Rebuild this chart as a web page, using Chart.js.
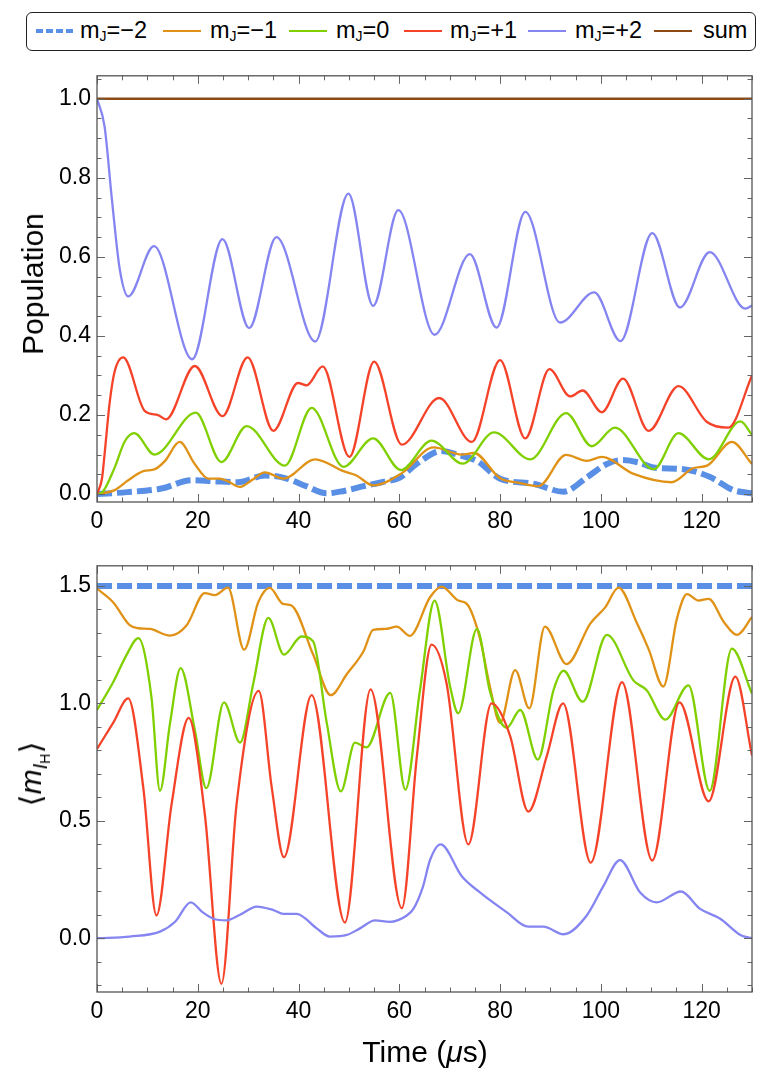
<!DOCTYPE html>
<html>
<head>
<meta charset="utf-8">
<script src="https://cdn.jsdelivr.net/npm/chart.js@4.4.1/dist/chart.umd.min.js"></script>
<style>
  html, body { margin: 0; padding: 0; background: #fff; overflow: hidden; }
  body { width: 777px; height: 1077px; position: relative; font-family: "Liberation Sans", Arial, sans-serif; color: #000; }
  #legendBox { position: absolute; left: 26px; top: 12px; width: 728px; height: 37px; border: 1.5px solid #222; border-radius: 6px; }
  .sw { position: absolute; top: 30px; width: 38px; height: 2px; }
  .lt { position: absolute; top: 16px; font-size: 23.5px; line-height: 28px; white-space: nowrap; }
  .lt sub { font-size: 14px; vertical-align: -3px; line-height: 0; }
  .title { position: absolute; font-size: 30px; white-space: nowrap; line-height: 34px; }
  .rot { transform: translate(-50%, -50%) rotate(-90deg); }
  .ctr { transform: translate(-50%, -50%); }
  .title sub { font-size: 20px; vertical-align: -6px; line-height: 0; }
  .title sub sub { font-size: 14px; vertical-align: -3px; }
  .wrap { position: absolute; left: 0; width: 777px; }
</style>
</head>
<body>

<div id="legendBox"></div>
<div class="sw" style="left:36px;top:29px;height:4px;background:repeating-linear-gradient(90deg,#5a8fe6 0 7px,transparent 7px 10px)"></div>
<div class="lt" style="left:80px">m<sub>J</sub>=−2</div>
<div class="sw" style="left:163px;background:#e09216"></div>
<div class="lt" style="left:210px">m<sub>J</sub>=−1</div>
<div class="sw" style="left:289px;background:#80d000"></div>
<div class="lt" style="left:336px">m<sub>J</sub>=0</div>
<div class="sw" style="left:404px;background:#f5432a"></div>
<div class="lt" style="left:450px">m<sub>J</sub>=+1</div>
<div class="sw" style="left:528px;background:#8585f2"></div>
<div class="lt" style="left:575px">m<sub>J</sub>=+2</div>
<div class="sw" style="left:654px;background:#8b4a16"></div>
<div class="lt" style="left:703px">sum</div>

<div class="wrap" style="top:56px;height:490px"><canvas id="popChart"></canvas></div>
<div class="wrap" style="top:546px;height:500px"><canvas id="spinChart"></canvas></div>

<div class="title rot" style="left:33px;top:284px">Population</div>
<div class="title rot" style="left:31px;top:774px">⟨<i>m</i><sub><i>I</i><sub>H</sub></sub>⟩</div>
<div class="title ctr" style="left:425px;top:1052px">Time (<i>μ</i>s)</div>

<script>
// ---- top panel: populations ----
const tPopM2 = [0, 6, 12.8, 18.8, 22.8, 28, 33.3, 37.5, 41.5, 45.6, 49, 52.9, 56.5, 60.1, 63.4, 68.4, 72, 75.4, 80, 86.6, 92.6, 97.2, 101, 104.2, 107.5, 110.5, 116.4, 121.7, 126.3, 130];
const popM2 = [0, 0.005, 0.014, 0.035, 0.033, 0.03, 0.047, 0.04, 0.02, 0.002, 0.008, 0.02, 0.03, 0.042, 0.076, 0.109, 0.098, 0.084, 0.039, 0.026, 0.006, 0.042, 0.075, 0.086, 0.08, 0.067, 0.063, 0.043, 0.01, 0.002];

const tPopM1 = [0, 3.5, 6.2, 9.2, 11.5, 13.5, 16.4, 19.4, 22.1, 24.4, 26.0, 28.4, 30.7, 33.3, 37.0, 43.3, 48.9, 51.5, 54.8, 60.5, 66.8, 72.4, 74.8, 80, 84, 87.6, 93.1, 97.2, 100.2, 106.5, 114.1, 118.4, 121.1, 126.0, 130];
const popM1 = [0, 0.01, 0.035, 0.058, 0.063, 0.084, 0.132, 0.076, 0.039, 0.039, 0.032, 0.018, 0.035, 0.055, 0.039, 0.088, 0.058, 0.047, 0.022, 0.053, 0.118, 0.10, 0.104, 0.04, 0.028, 0.02, 0.099, 0.084, 0.094, 0.051, 0.03, 0.066, 0.072, 0.132, 0.076];

const tPop0 = [0, 1, 3.5, 5.5, 7.4, 11.4, 19.6, 24.7, 29.7, 37.3, 42.6, 48.9, 54.8, 60.3, 66.4, 72.6, 78.8, 86.0, 93.1, 98.2, 102.8, 110.5, 115.4, 121.4, 127.7, 130];
const pop0 = [0, 0.004, 0.067, 0.133, 0.154, 0.1, 0.206, 0.081, 0.172, 0.072, 0.218, 0.069, 0.141, 0.061, 0.135, 0.077, 0.156, 0.088, 0.205, 0.121, 0.168, 0.063, 0.154, 0.088, 0.184, 0.15];

const tPopP1 = [0, 1, 1.5, 2.5, 3.5, 5.2, 9.5, 12.1, 13.7, 19.4, 24.9, 29.9, 35.0, 39.9, 41.6, 44.8, 50.1, 55.0, 60.5, 67.9, 74.4, 80.0, 85.0, 89.8, 93.9, 96.4, 100.2, 104.4, 109.5, 115.4, 121.0, 125.3, 130];
const popP1 = [0, 0.04, 0.1, 0.23, 0.31, 0.346, 0.21, 0.2, 0.189, 0.324, 0.197, 0.346, 0.16, 0.281, 0.275, 0.323, 0.094, 0.335, 0.125, 0.243, 0.132, 0.339, 0.141, 0.316, 0.247, 0.262, 0.207, 0.292, 0.16, 0.273, 0.183, 0.168, 0.30];

const tPopP2 = [0, 1.5, 3, 4.5, 6.2, 11.3, 18.9, 24.9, 30.2, 35.6, 43.3, 49.9, 54.8, 59.8, 67.0, 74.0, 79.3, 85.0, 91.9, 98.7, 103.9, 110.2, 115.7, 121.6, 128.7, 130];
const popP2 = [1.0, 0.93, 0.74, 0.57, 0.50, 0.627, 0.341, 0.645, 0.42, 0.65, 0.386, 0.76, 0.476, 0.718, 0.403, 0.607, 0.421, 0.714, 0.434, 0.51, 0.387, 0.66, 0.472, 0.612, 0.469, 0.477];

const tPopSum = [0, 130];
const popSum = [1, 1];

// ---- bottom panel: <m_IH> ----
const tSpinM2 = [0, 130];
const spinM2 = [1.5, 1.5];

const tSpinM1 = [0, 3.2, 6.5, 8.2, 10.5, 14.5, 17.8, 21.4, 23.4, 26.0, 29.2, 32.0, 34.3, 36.9, 38.6, 42.9, 46.4, 49.6, 52.9, 54.8, 57.2, 59.5, 62.1, 66.1, 68.4, 71.7, 73.4, 76.0, 78.0, 80.0, 83.0, 85.8, 88.9, 93.2, 97.9, 100.9, 103.5, 107.2, 109.5, 112.4, 115.1, 117.1, 119.4, 121.4, 124.4, 127.0, 130];
const spinM1 = [1.489, 1.431, 1.333, 1.32, 1.317, 1.289, 1.333, 1.47, 1.461, 1.493, 1.229, 1.431, 1.492, 1.424, 1.417, 1.208, 1.035, 1.125, 1.222, 1.313, 1.317, 1.327, 1.288, 1.452, 1.497, 1.438, 1.424, 1.278, 1.07, 0.917, 1.142, 0.979, 1.327, 1.167, 1.34, 1.41, 1.493, 1.34, 1.23, 1.072, 1.361, 1.465, 1.438, 1.445, 1.347, 1.292, 1.368];

const tSpin0 = [0, 3.2, 5.9, 8.2, 10.8, 12.5, 14.5, 16.6, 19.4, 21.7, 25.2, 28.4, 31.0, 34.0, 37.1, 40.6, 42.9, 45.6, 48.4, 51.2, 53.5, 58.2, 61.2, 64.1, 67.0, 70.1, 71.7, 75.4, 78.0, 81.3, 84.0, 87.5, 90.6, 92.6, 96.4, 101.2, 106.5, 109.1, 112.8, 117.4, 121.6, 126.0, 130];
const spin0 = [0.972, 1.09, 1.208, 1.278, 1.028, 0.628, 0.917, 1.15, 0.889, 0.639, 1.004, 0.833, 1.083, 1.364, 1.208, 1.285, 1.264, 0.917, 0.625, 0.833, 0.813, 1.045, 0.633, 1.056, 1.438, 1.07, 0.958, 1.317, 1.05, 0.896, 0.972, 0.761, 1.056, 1.139, 1.007, 1.292, 1.097, 1.056, 0.931, 1.077, 0.628, 1.233, 1.042];

const tSpinP1 = [0, 3.2, 6.2, 9.2, 11.8, 14.8, 18.2, 21.4, 24.7, 27.7, 32.1, 34.7, 37.1, 42.6, 49.2, 54.3, 60.5, 63.5, 66.4, 69.4, 73.7, 78.3, 82.0, 85.6, 89.3, 92.5, 98.0, 104.2, 110.2, 115.6, 121.4, 126.7, 130];
const spinP1 = [0.806, 0.917, 1.021, 0.639, 0.097, 0.57, 0.938, 0.528, -0.194, 0.57, 1.053, 0.639, 0.345, 1.035, 0.067, 1.06, 0.128, 0.778, 1.25, 1.083, 0.4, 1.0, 0.861, 0.539, 0.778, 1.0, 0.322, 1.09, 0.331, 1.004, 0.583, 1.114, 0.778];

const tSpinP2 = [0, 6.5, 12.5, 15.5, 18.6, 21, 23.1, 25.7, 28.4, 31.7, 35, 37.0, 39.6, 43.6, 46.2, 49.6, 52.2, 55.2, 58.1, 61.5, 62.8, 64.7, 66.1, 68.2, 72.4, 76.0, 81.3, 85.6, 88.6, 92.6, 97.2, 100.5, 103.8, 107.8, 111.1, 115.9, 119.7, 123.7, 127.7, 130];
const spinP2 = [0, 0.007, 0.028, 0.07, 0.153, 0.11, 0.083, 0.076, 0.1, 0.135, 0.12, 0.104, 0.104, 0.042, 0.007, 0.014, 0.042, 0.076, 0.07, 0.097, 0.125, 0.22, 0.333, 0.4, 0.264, 0.195, 0.111, 0.049, 0.049, 0.017, 0.097, 0.222, 0.333, 0.195, 0.153, 0.199, 0.125, 0.083, 0.014, 0];

const colors = {
    m2: "#5a8fe6",
    m1: "#e09216",
    z: "#80d000",
    p1: "#f5432a",
    p2: "#8585f2",
    sum: "#8b4a16"
};

function series(label, t, v, color, order, dashed) {
    return {
        label: label,
        data: t.map((x, i) => ({ x: x, y: v[i] })),
        borderColor: color,
        backgroundColor: color,
        borderWidth: dashed ? 6 : 2.3,
        borderDash: dashed ? [15, 5] : [],
        borderCapStyle: "butt",
        pointRadius: 0,
        cubicInterpolationMode: "monotone",
        fill: false,
        order: order
    };
}

// frame with inward major/minor ticks on all four sides (Mathematica style)
const frameTicks = {
    id: "frameTicks",
    afterDraw(chart, args, opts) {
        const { ctx, chartArea: a, scales: { x, y } } = chart;
        ctx.save();
        ctx.strokeStyle = "#666";
        ctx.lineWidth = 1;

        const marks = (scale, minor, major, fn) => {
            for (let k = Math.ceil(scale.min / minor - 1e-9); k * minor <= scale.max + 1e-9; k++) {
                const v = k * minor;
                const isMajor = Math.abs(v / major - Math.round(v / major)) < 1e-6;
                fn(Math.round(scale.getPixelForValue(v)) + 0.5, isMajor ? 8 : 4.5);
            }
        };

        ctx.beginPath();
        marks(x, opts.xMinor, opts.xMajor, (px, len) => {
            ctx.moveTo(px, a.bottom); ctx.lineTo(px, a.bottom - len);
            ctx.moveTo(px, a.top); ctx.lineTo(px, a.top + len);
        });
        marks(y, opts.yMinor, opts.yMajor, (py, len) => {
            ctx.moveTo(a.left, py); ctx.lineTo(a.left + len, py);
            ctx.moveTo(a.right, py); ctx.lineTo(a.right - len, py);
        });
        ctx.stroke();

        ctx.strokeStyle = "#555";
        ctx.lineWidth = 1.3;
        ctx.strokeRect(a.left, a.top, a.right - a.left, a.bottom - a.top);
        ctx.restore();
    }
};

function buildOptions(yMin, yMax, yStep, xAxisHeight, minor) {
    const tickFont = { family: "Liberation Sans", size: 23 };
    return {
        responsive: true,
        maintainAspectRatio: false,
        animation: false,
        layout: { padding: { top: 10, right: 25, bottom: 0, left: 0 } },
        plugins: {
            legend: { display: false },
            tooltip: { enabled: false },
            frameTicks: minor
        },
        scales: {
            x: {
                type: "linear",
                min: 0,
                max: 130,
                grid: { display: false, drawTicks: false },
                border: { display: false },
                ticks: {
                    stepSize: 20,
                    includeBounds: false,
                    color: "#000",
                    font: tickFont,
                    padding: 6,
                    maxRotation: 0,
                    callback: v => String(v)
                },
                afterFit(s) { s.height = xAxisHeight; }
            },
            y: {
                min: yMin,
                max: yMax,
                grid: { display: false, drawTicks: false },
                border: { display: false },
                ticks: {
                    stepSize: yStep,
                    includeBounds: false,
                    color: "#000",
                    font: tickFont,
                    padding: 6,
                    callback: v => Number(v).toFixed(1)
                },
                afterFit(s) { s.width = 97; }
            }
        }
    };
}

new Chart(document.getElementById("popChart"), {
    type: "line",
    data: {
        datasets: [
            series("mJ=-2", tPopM2, popM2, colors.m2, 6, true),
            series("mJ=-1", tPopM1, popM1, colors.m1, 5, false),
            series("mJ=0", tPop0, pop0, colors.z, 4, false),
            series("mJ=+1", tPopP1, popP1, colors.p1, 3, false),
            series("mJ=+2", tPopP2, popP2, colors.p2, 2, false),
            series("sum", tPopSum, popSum, colors.sum, 1, false)
        ]
    },
    options: buildOptions(-0.02, 1.058, 0.2, 44, { xMinor: 5, xMajor: 20, yMinor: 0.05, yMajor: 0.2 }),
    plugins: [frameTicks]
});

new Chart(document.getElementById("spinChart"), {
    type: "line",
    data: {
        datasets: [
            series("mJ=-2", tSpinM2, spinM2, colors.m2, 6, true),
            series("mJ=-1", tSpinM1, spinM1, colors.m1, 5, false),
            series("mJ=0", tSpin0, spin0, colors.z, 4, false),
            series("mJ=+1", tSpinP1, spinP1, colors.p1, 3, false),
            series("mJ=+2", tSpinP2, spinP2, colors.p2, 2, false)
        ]
    },
    options: buildOptions(-0.229, 1.586, 0.5, 54, { xMinor: 5, xMajor: 20, yMinor: 0.1, yMajor: 0.5 }),
    plugins: [frameTicks]
});
</script>
</body>
</html>
